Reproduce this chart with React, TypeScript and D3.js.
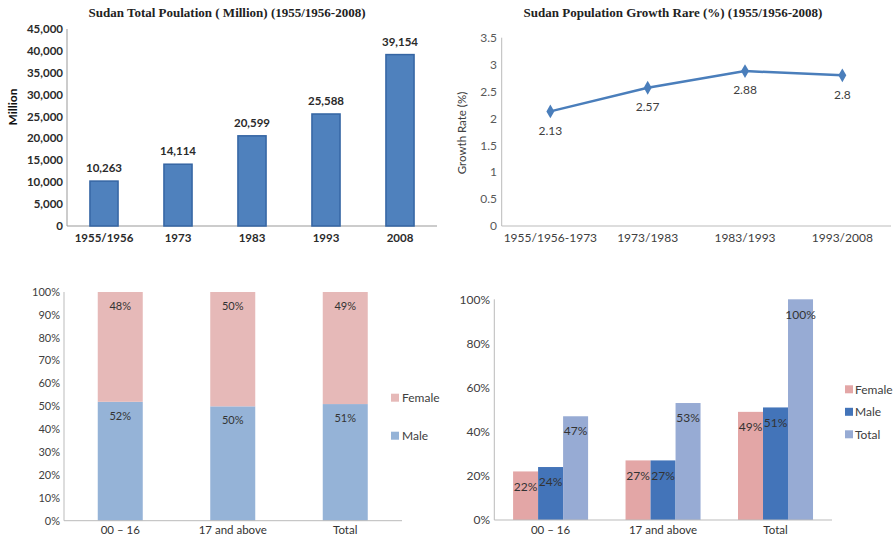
import * as d3 from 'd3'

const FONT = 'Lato, "Open Sans", sans-serif'
const SERIF = '"Liberation Serif", "DejaVu Serif", serif'

// top-left: total population
const years = ['1955/1956', '1973', '1983', '1993', '2008']
const population = [10263, 14114, 20599, 25588, 39154]
const popTicks = [0, 5000, 10000, 15000, 20000, 25000, 30000, 35000, 40000, 45000]

// top-right: growth rate
const periods = ['1955/1956-1973', '1973/1983', '1983/1993', '1993/2008']
const growthRate = [2.13, 2.57, 2.88, 2.8]
const rateTicks = [0, 0.5, 1, 1.5, 2, 2.5, 3, 3.5]

// bottom-left: share by sex within each age group
const ageGroups = ['00 – 16', '17 and above', 'Total']
const maleShare = [0.52, 0.5, 0.51]
const femaleShare = [0.48, 0.5, 0.49]
const shareTicks = [0, 0.1, 0.2, 0.3, 0.4, 0.5, 0.6, 0.7, 0.8, 0.9, 1]

// bottom-right: distribution across age groups
const distSeries = ['Female', 'Male', 'Total']
const femaleDist = [0.22, 0.27, 0.49]
const maleDist = [0.24, 0.27, 0.51]
const totalDist = [0.47, 0.53, 1.0]
const distTicks = [0, 0.2, 0.4, 0.6, 0.8, 1]

const pct = d3.format('.0%')
const comma = d3.format(',')

function PopulationChart() {
  const x = d3.scaleBand().domain(years).range([67, 437]).paddingInner(0.62).paddingOuter(0.31)
  const y = d3.scaleLinear().domain([0, 45000]).range([226, 29])
  return (
    <g>
      <text x={227} y={17} textAnchor="middle" fontFamily={SERIF} fontWeight="bold" fontSize={13} fill="#222">
        Sudan Total Poulation ( Million) (1955/1956-2008)
      </text>
      <text transform="translate(17,107) rotate(-90)" textAnchor="middle" fontFamily={FONT} fontWeight="bold" fontSize={12} fill="#111">
        Million
      </text>
      {popTicks.map((t) => (
        <text key={t} x={63} y={y(t)} dy="0.35em" textAnchor="end" fontFamily={FONT} fontWeight="bold" fontSize={11.5} fill="#2a2a2a">
          {comma(t)}
        </text>
      ))}
      <line x1={67} x2={67} y1={29} y2={226} stroke="#999" />
      <line x1={67} x2={437} y1={226} y2={226} stroke="#999" />
      {years.map((yr, i) => (
        <g key={yr}>
          <rect x={x(yr)} y={y(population[i])} width={x.bandwidth()} height={226 - y(population[i])} fill="#4F81BD" stroke="#3565A3" strokeWidth={1.5} />
          <text x={(x(yr) ?? 0) + x.bandwidth() / 2} y={y(population[i]) - 13} dy="0.35em" textAnchor="middle" fontFamily={FONT} fontWeight="bold" fontSize={11.5} fill="#2a2a2a">
            {comma(population[i])}
          </text>
          <text x={(x(yr) ?? 0) + x.bandwidth() / 2} y={238} dy="0.35em" textAnchor="middle" fontFamily={FONT} fontWeight="bold" fontSize={11.5} fill="#2a2a2a">
            {yr}
          </text>
        </g>
      ))}
    </g>
  )
}

function GrowthChart() {
  const x = d3.scaleBand().domain(periods).range([501.7, 891])
  const y = d3.scaleLinear().domain([0, 3.5]).range([226, 37.7])
  const cx = (p: string) => (x(p) ?? 0) + x.bandwidth() / 2
  const line = d3
    .line<number>()
    .x((_, i) => cx(periods[i]))
    .y((d) => y(d))
  const diamond = d3.symbol(d3.symbolDiamond, 55)()
  return (
    <g>
      <text x={673} y={17} textAnchor="middle" fontFamily={SERIF} fontWeight="bold" fontSize={13} fill="#222">
        Sudan Population Growth Rare (%) (1955/1956-2008)
      </text>
      <text transform="translate(466,133) rotate(-90)" textAnchor="middle" fontFamily={FONT} fontSize={11.5} fill="#404040">
        Growth Rate (%)
      </text>
      {rateTicks.map((t) => (
        <text key={t} x={497} y={y(t)} dy="0.35em" textAnchor="end" fontFamily={FONT} fontSize={12} fill="#595959">
          {t}
        </text>
      ))}
      <line x1={501.7} x2={501.7} y1={37.7} y2={226} stroke="#bbb" />
      <line x1={501.7} x2={891} y1={226} y2={226} stroke="#bbb" />
      {periods.map((p) => (
        <text key={p} x={cx(p)} y={238} dy="0.35em" textAnchor="middle" fontFamily={FONT} fontSize={12} fill="#404040">
          {p}
        </text>
      ))}
      <path d={line(growthRate) ?? ''} fill="none" stroke="#4A7EBB" strokeWidth={2.5} />
      {growthRate.map((v, i) => (
        <g key={i}>
          <path d={diamond ?? ''} transform={`translate(${cx(periods[i])},${y(v)})`} fill="#4A7EBB" />
          <text x={cx(periods[i])} y={y(v) + 19} dy="0.35em" textAnchor="middle" fontFamily={FONT} fontSize={12} fill="#404040">
            {v}
          </text>
        </g>
      ))}
    </g>
  )
}

function ShareChart() {
  const x = d3.scaleBand().domain(ageGroups).range([64, 401.5]).paddingInner(0.6).paddingOuter(0.3)
  const y = d3.scaleLinear().domain([0, 1]).range([520.7, 292])
  const rows = ageGroups.map((g, i) => ({ group: g, Male: maleShare[i], Female: femaleShare[i] }))
  const stacked = d3.stack<(typeof rows)[number]>().keys(['Male', 'Female'])(rows)
  const colors: Record<string, string> = { Male: '#95B3D7', Female: '#E6B9B8' }
  return (
    <g>
      {shareTicks.map((t) => (
        <text key={t} x={60} y={y(t)} dy="0.35em" textAnchor="end" fontFamily={FONT} fontSize={11} fill="#404040">
          {pct(t)}
        </text>
      ))}
      {stacked.map((layer) =>
        layer.map((seg, i) => (
          <g key={layer.key + i}>
            <rect x={x(ageGroups[i])} y={y(seg[1])} width={x.bandwidth()} height={y(seg[0]) - y(seg[1])} fill={colors[layer.key]} />
            <text x={(x(ageGroups[i]) ?? 0) + x.bandwidth() / 2} y={y(seg[1]) + 14} dy="0.35em" textAnchor="middle" fontFamily={FONT} fontSize={11} fill="#333">
              {pct(seg[1] - seg[0])}
            </text>
          </g>
        ))
      )}
      <line x1={64} x2={64} y1={292} y2={520.7} stroke="#bbb" />
      <line x1={64} x2={402} y1={520.7} y2={520.7} stroke="#bbb" />
      {ageGroups.map((g) => (
        <text key={g} x={(x(g) ?? 0) + x.bandwidth() / 2} y={530} dy="0.35em" textAnchor="middle" fontFamily={FONT} fontSize={11.5} fill="#333">
          {g}
        </text>
      ))}
      {['Female', 'Male'].map((k, i) => (
        <g key={k}>
          <rect x={391} y={393.7 + i * 38} width={8} height={8} fill={colors[k]} />
          <text x={402} y={397.7 + i * 38} dy="0.35em" fontFamily={FONT} fontSize={12} fill="#404040">
            {k}
          </text>
        </g>
      ))}
    </g>
  )
}

function DistributionChart() {
  const x0 = d3.scaleBand().domain(ageGroups).range([494.3, 831.8]).paddingInner(0.333).paddingOuter(0.167)
  const x1 = d3.scaleBand().domain(distSeries).range([0, x0.bandwidth()])
  const y = d3.scaleLinear().domain([0, 1]).range([520, 299.3])
  const values: Record<string, number[]> = { Female: femaleDist, Male: maleDist, Total: totalDist }
  const colors: Record<string, string> = { Female: '#E3A6A6', Male: '#4374B9', Total: '#97ABD4' }
  return (
    <g>
      {distTicks.map((t) => (
        <text key={t} x={490} y={y(t)} dy="0.35em" textAnchor="end" fontFamily={FONT} fontSize={12} fill="#404040">
          {pct(t)}
        </text>
      ))}
      {ageGroups.map((g, gi) =>
        distSeries.map((s) => {
          const v = values[s][gi]
          const bx = (x0(g) ?? 0) + (x1(s) ?? 0)
          return (
            <g key={g + s}>
              <rect x={bx} y={y(v)} width={x1.bandwidth()} height={520 - y(v)} fill={colors[s]} />
              <text x={bx + x1.bandwidth() / 2} y={y(v) + 15} dy="0.35em" textAnchor="middle" fontFamily={FONT} fontSize={12} fill="#333">
                {pct(v)}
              </text>
            </g>
          )
        })
      )}
      <line x1={494.3} x2={494.3} y1={299.3} y2={520} stroke="#bbb" />
      <line x1={494.3} x2={832} y1={520} y2={520} stroke="#bbb" />
      {ageGroups.map((g) => (
        <text key={g} x={(x0(g) ?? 0) + x0.bandwidth() / 2} y={530} dy="0.35em" textAnchor="middle" fontFamily={FONT} fontSize={11.5} fill="#333">
          {g}
        </text>
      ))}
      {distSeries.map((k, i) => (
        <g key={k}>
          <rect x={845} y={385.3 + i * 22.5} width={8} height={8} fill={colors[k]} />
          <text x={855} y={389.3 + i * 22.5} dy="0.35em" fontFamily={FONT} fontSize={12} fill="#404040">
            {k}
          </text>
        </g>
      ))}
    </g>
  )
}

export default function App() {
  return (
    <svg width={893} height={536} style={{ position: 'absolute', left: 0, top: 0, background: '#fff' }}>
      <rect width={893} height={536} fill="#fff" />
      <PopulationChart />
      <GrowthChart />
      <ShareChart />
      <DistributionChart />
    </svg>
  )
}
